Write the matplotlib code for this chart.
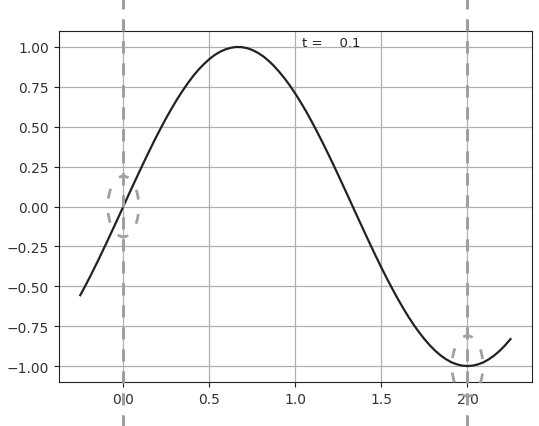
import matplotlib
matplotlib.use("Agg")
import matplotlib.pyplot as plt
from matplotlib.patches import Ellipse

x_vals = [-0.25, -0.21875, -0.1875, -0.15625, -0.125, -0.09375, -0.0625, -0.03125,
          0.0, 0.03125, 0.0625, 0.09375, 0.125, 0.15625, 0.1875, 0.21875,
          0.25, 0.28125, 0.3125, 0.34375, 0.375, 0.40625, 0.4375, 0.46875,
          0.5, 0.53125, 0.5625, 0.59375, 0.625, 0.65625, 0.6875, 0.71875,
          0.75, 0.78125, 0.8125, 0.84375, 0.875, 0.90625, 0.9375, 0.96875,
          1.0, 1.03125, 1.0625, 1.09375, 1.125, 1.15625, 1.1875, 1.21875,
          1.25, 1.28125, 1.3125, 1.34375, 1.375, 1.40625, 1.4375, 1.46875,
          1.5, 1.53125, 1.5625, 1.59375, 1.625, 1.65625, 1.6875, 1.71875,
          1.75, 1.78125, 1.8125, 1.84375, 1.875, 1.90625, 1.9375, 1.96875,
          2.0, 2.03125, 2.0625, 2.09375, 2.125, 2.15625, 2.1875, 2.21875, 2.25]
y_vals = [-0.556, -0.493, -0.428, -0.360, -0.290, -0.219, -0.147, -0.074,
          0.000, 0.074, 0.147, 0.219, 0.290, 0.360, 0.428, 0.493,
          0.556, 0.615, 0.672, 0.724, 0.773, 0.818, 0.858, 0.893,
          0.924, 0.950, 0.970, 0.985, 0.995, 1.000, 0.999, 0.993,
          0.981, 0.964, 0.942, 0.914, 0.882, 0.844, 0.803, 0.757,
          0.707, 0.653, 0.596, 0.535, 0.471, 0.405, 0.337, 0.267,
          0.195, 0.122, 0.049, -0.025, -0.098, -0.171, -0.243, -0.314,
          -0.383, -0.450, -0.514, -0.576, -0.634, -0.690, -0.741, -0.788,
          -0.831, -0.870, -0.904, -0.933, -0.957, -0.976, -0.989, -0.997,
          -1.000, -0.997, -0.989, -0.976, -0.957, -0.933, -0.904, -0.870, -0.831]
marker_x = [0.0, 2.0]
marker_y = [0.0, -1.0]
t_label = "t =    0.1"

fig = plt.figure(figsize=(5.39, 4.27), dpi=100)
ax = fig.add_axes([0.109, 0.103, 0.878, 0.822])

ax.plot(x_vals, y_vals, color="#222222", lw=1.6, zorder=3)
ax.grid(True, color="#b0b0b0", lw=0.9)
ax.set_axisbelow(True)

for mx, my in zip(marker_x, marker_y):
    ax.axvline(mx, ymin=-0.15, ymax=1.15, color="#a0a0a0", lw=2.2,
               dashes=(4, 3.2), clip_on=False, zorder=4)
    e = Ellipse((mx, my), width=0.18, height=0.38, fill=False,
                edgecolor="#a0a0a0", lw=2.0, linestyle=(1.8, (3.6, 5.2)),
                clip_on=False, zorder=4)
    ax.add_patch(e)

ax.text(1.04, 1.025, t_label, fontsize=9.5, color="#222222", va="center", ha="left")

ax.set_yticks([-1.0, -0.75, -0.5, -0.25, 0.0, 0.25, 0.5, 0.75, 1.0])
ax.set_xticks([0.0, 0.5, 1.0, 1.5, 2.0])
for s in ax.spines.values():
    s.set_color("#222222")
ax.tick_params(colors="#222222", labelcolor="#333333")

fig.savefig("out.png", dpi=100)
